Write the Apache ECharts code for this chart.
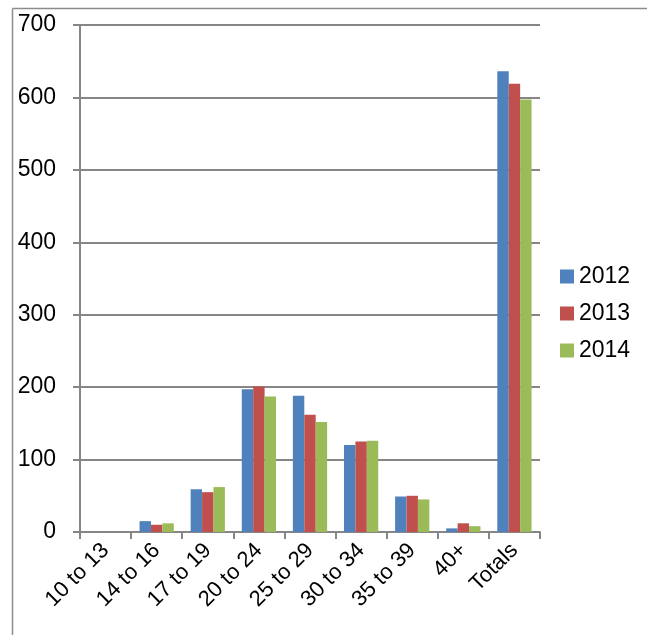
<!DOCTYPE html>
<html>
<head>
<meta charset="utf-8">
<script src="https://cdn.jsdelivr.net/npm/echarts@6/dist/echarts.min.js"></script>
<style>
  html, body { margin: 0; padding: 0; background: #fff; }
  #chart { width: 647px; height: 635px; }
</style>
</head>
<body>
<div id="chart"></div>
<script>
    // 类别（年龄段）
    let ageGroups = ['10 to 13', '14 to 16', '17 to 19', '20 to 24', '25 to 29', '30 to 34', '35 to 39', '40+', 'Totals'];
    // 各年份数据
    let data2012 = [0, 15, 59, 197, 188, 120, 49, 5, 636];
    let data2013 = [0, 10, 55, 201, 162, 125, 50, 12, 619];
    let data2014 = [0, 12, 62, 187, 152, 126, 45, 8, 597];
    let seriesNames = ['2012', '2013', '2014'];

    let myChart = echarts.init(document.getElementById('chart'));
    let axisGray = '#868686';
    let font = 'Liberation Sans';

    var option = {
        animation: false,
        color: ['#4F81BD', '#C0504D', '#9BBB59'],
        // 外框
        graphic: [
            { type: 'line', shape: { x1: 12.5, y1: 8.5, x2: 647, y2: 8.5 }, style: { stroke: '#8c8c8c', lineWidth: 1.5 } },
            { type: 'line', shape: { x1: 12.5, y1: 8.5, x2: 12.5, y2: 635 }, style: { stroke: '#8c8c8c', lineWidth: 1.5 } }
        ],
        grid: { left: 80, right: 107, top: 25, bottom: 103 },
        legend: {
            orient: 'vertical',
            left: 555,
            top: 260,
            itemWidth: 14,
            itemHeight: 14,
            itemGap: 14,
            icon: 'rect',
            textStyle: { fontSize: 23, fontFamily: font, color: '#000' },
            data: seriesNames
        },
        xAxis: {
            type: 'category',
            data: ageGroups,
            axisLine: { lineStyle: { color: axisGray, width: 2 } },
            axisTick: { show: true, length: 7, lineStyle: { color: axisGray, width: 2 } },
            axisLabel: {
                rotate: 45,
                interval: 0,
                margin: 15,
                fontSize: 22,
                fontFamily: font,
                color: '#000'
            }
        },
        yAxis: {
            type: 'value',
            min: 0,
            max: 700,
            interval: 100,
            axisLine: { show: true, lineStyle: { color: axisGray, width: 2 } },
            axisTick: { show: true, length: 7, lineStyle: { color: axisGray, width: 2 } },
            splitLine: { show: true, lineStyle: { color: axisGray, width: 2 } },
            axisLabel: { margin: 24, fontSize: 23, fontFamily: font, color: '#000' }
        },
        series: [
            { name: seriesNames[0], type: 'bar', data: data2012, barGap: '0%', barCategoryGap: '33%' },
            { name: seriesNames[1], type: 'bar', data: data2013, barGap: '0%', barCategoryGap: '33%' },
            { name: seriesNames[2], type: 'bar', data: data2014, barGap: '0%', barCategoryGap: '33%' }
        ]
    };

    myChart.setOption(option);
</script>
</body>
</html>
